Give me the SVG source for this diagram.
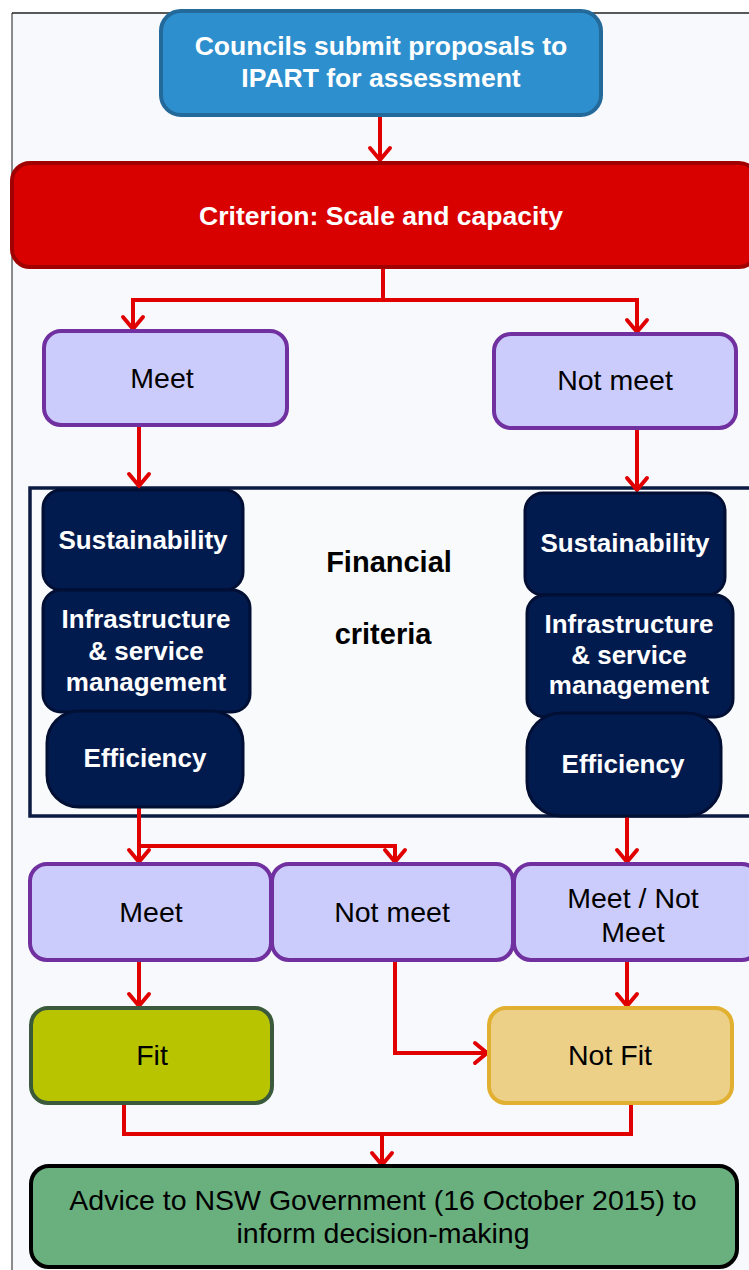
<svg xmlns="http://www.w3.org/2000/svg" width="749" height="1270" viewBox="0 0 749 1270">
<defs>
<marker id="ah" markerUnits="userSpaceOnUse" markerWidth="30" markerHeight="30" viewBox="-15 -15 30 30" refX="0" refY="0" orient="auto">
<path d="M-12,-10 L0,0 L-12,10" fill="none" stroke="#e00000" stroke-width="4" stroke-linecap="round" stroke-linejoin="miter"/>
</marker>
</defs>
<style>
.c{fill:none;stroke:#e00000;stroke-width:4;stroke-linejoin:miter}
.ca{fill:none;stroke:#e00000;stroke-width:4;marker-end:url(#ah)}
.t{font-family:"Liberation Sans",Arial,sans-serif;text-anchor:middle}
.b{font-weight:bold;fill:#fff}
.r{font-size:28.5px;fill:#000}
.lav{fill:#ccccfc;stroke:#7030a0;stroke-width:4}
.navy{fill:#021b4f;stroke:#000f33;stroke-width:3}
</style>
<rect x="0" y="0" width="749" height="1270" fill="#ffffff"/>
<rect x="12" y="13" width="737" height="1257" fill="#f7f9fc"/>
<line x1="12" y1="13" x2="12" y2="1270" stroke="#666" stroke-width="1.5"/>
<line x1="12" y1="13" x2="749" y2="13" stroke="#222" stroke-width="1.5"/>

<g id="fin-frame">
<rect x="30" y="488" width="721" height="328" fill="#f9fafc" stroke="#0a1a40" stroke-width="3.5"/>
<text class="t" x="389" y="572" font-size="29" font-weight="bold" fill="#000">Financial</text>
<text class="t" x="383" y="644" font-size="29" font-weight="bold" fill="#000">criteria</text>
</g>

<g id="connectors">
<line class="ca" x1="380" y1="115" x2="380" y2="160"/>
<path class="c" d="M383,268 V300 H133 M383,300 H637"/>
<line class="ca" x1="133" y1="298" x2="133" y2="329"/>
<line class="ca" x1="637" y1="298" x2="637" y2="332"/>
<line class="ca" x1="139" y1="425" x2="139" y2="486"/>
<line class="ca" x1="637" y1="428" x2="637" y2="490"/>
<path class="c" d="M139,808 V846 H395"/>
<line class="ca" x1="139" y1="840" x2="139" y2="862"/>
<line class="ca" x1="395" y1="844" x2="395" y2="862"/>
<line class="ca" x1="627" y1="817" x2="627" y2="862"/>
<line class="ca" x1="139" y1="960" x2="139" y2="1006"/>
<line class="ca" x1="627" y1="960" x2="627" y2="1006"/>
<path class="ca" d="M395,960 V1053 H487"/>
<path class="c" d="M124,1103 V1134 H631 V1103"/>
<line class="ca" x1="382" y1="1132" x2="382" y2="1165"/>
</g>

<g id="n-submit">
<rect x="161" y="11" width="440" height="104" rx="20" fill="#2e8fce" stroke="#236a9b" stroke-width="4"/>
<text class="t b" x="381" y="55" font-size="26.5">Councils submit proposals to</text>
<text class="t b" x="381" y="87" font-size="26.5">IPART for assessment</text>
</g>

<g id="n-criterion">
<rect x="12" y="163" width="745" height="104" rx="18" fill="#d90000" stroke="#a00000" stroke-width="4"/>
<text class="t b" x="381" y="225" font-size="26.5">Criterion: Scale and capacity</text>
</g>

<g id="n-meet1">
<rect class="lav" x="44" y="331" width="243" height="94" rx="17"/>
<text class="t r" x="162" y="388">Meet</text>
</g>
<g id="n-notmeet1">
<rect class="lav" x="494" y="334" width="242" height="94" rx="17"/>
<text class="t r" x="615" y="390">Not meet</text>
</g>

<g id="n-sust-l">
<rect class="navy" x="43" y="490" width="200" height="100" rx="18"/>
<text class="t b" x="143" y="549" font-size="26">Sustainability</text>
</g>
<g id="n-infra-l">
<rect class="navy" x="43" y="590" width="207" height="122" rx="18"/>
<text class="t b" x="146" y="628" font-size="26">Infrastructure</text>
<text class="t b" x="146" y="660" font-size="26">&amp; service</text>
<text class="t b" x="146" y="691" font-size="26">management</text>
</g>
<g id="n-eff-l">
<rect class="navy" x="47" y="711" width="196" height="96" rx="32"/>
<text class="t b" x="145" y="767" font-size="26">Efficiency</text>
</g>

<g id="n-sust-r">
<rect class="navy" x="525" y="493" width="200" height="102" rx="18"/>
<text class="t b" x="625" y="552" font-size="26">Sustainability</text>
</g>
<g id="n-infra-r">
<rect class="navy" x="527" y="595" width="206" height="122" rx="18"/>
<text class="t b" x="629" y="633" font-size="26">Infrastructure</text>
<text class="t b" x="629" y="664" font-size="26">&amp; service</text>
<text class="t b" x="629" y="694" font-size="26">management</text>
</g>
<g id="n-eff-r">
<rect class="navy" x="527" y="713" width="194" height="103" rx="34"/>
<text class="t b" x="623" y="773" font-size="26">Efficiency</text>
</g>

<g id="n-meet2">
<rect class="lav" x="30" y="864" width="241" height="96" rx="17"/>
<text class="t r" x="151" y="922">Meet</text>
</g>
<g id="n-notmeet2">
<rect class="lav" x="272" y="864" width="241" height="96" rx="17"/>
<text class="t r" x="392" y="922">Not meet</text>
</g>
<g id="n-meetnot">
<rect class="lav" x="514" y="864" width="245" height="96" rx="17"/>
<text class="t r" x="633" y="908">Meet / Not</text>
<text class="t r" x="633" y="942">Meet</text>
</g>

<g id="n-fit">
<rect x="31" y="1008" width="241" height="95" rx="17" fill="#b9c400" stroke="#3b5a3b" stroke-width="4"/>
<text class="t r" x="152" y="1065">Fit</text>
</g>
<g id="n-notfit">
<rect x="489" y="1008" width="243" height="95" rx="17" fill="#edd088" stroke="#e2b030" stroke-width="4"/>
<text class="t r" x="610" y="1065">Not Fit</text>
</g>

<g id="n-advice">
<rect x="31" y="1166" width="706" height="101" rx="18" fill="#6aaf7e" stroke="#000" stroke-width="4"/>
<text class="t r" x="383" y="1210">Advice to NSW Government (16 October 2015) to</text>
<text class="t r" x="383" y="1243">inform decision-making</text>
</g>
</svg>
